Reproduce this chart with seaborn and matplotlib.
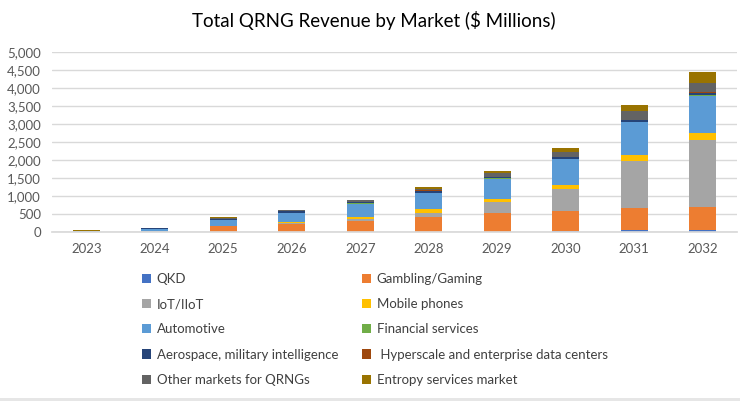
import matplotlib
matplotlib.use("Agg")
import matplotlib.pyplot as plt
from matplotlib.patches import Patch
from matplotlib.ticker import FuncFormatter, MultipleLocator
import seaborn as sns
import pandas as pd

years = [2023, 2024, 2025, 2026, 2027, 2028, 2029, 2030, 2031, 2032]

markets = ["QKD", "Gambling/Gaming", "IoT/IIoT", "Mobile phones", "Automotive",
           "Financial services", "Aerospace, military intelligence",
           " Hyperscale and enterprise data centers", "Other markets for QRNGs",
           "Entropy services market"]

qkd         = [1, 3, 3, 4, 5, 6, 10, 25, 55, 55]
gambling    = [5, 10, 150, 205, 300, 420, 520, 570, 600, 630]
iot         = [3, 5, 10, 35, 65, 110, 300, 590, 1330, 1860]
mobile      = [2, 3, 5, 20, 45, 90, 95, 130, 150, 204]
automotive  = [10, 70, 170, 260, 375, 450, 560, 700, 910, 1025]
financial   = [1, 2, 3, 5, 8, 10, 12, 15, 18, 20]
aerospace   = [5, 15, 25, 45, 25, 65, 40, 45, 56, 75]
hyperscale  = [1, 1, 2, 2, 3, 3, 4, 5, 6, 8]
other       = [5, 10, 25, 25, 55, 50, 95, 140, 230, 268]
entropy     = [12, 5, 15, 12, 17, 37, 55, 100, 168, 307]

series = [qkd, gambling, iot, mobile, automotive, financial, aerospace,
          hyperscale, other, entropy]

colors = ["#4472C4", "#ED7D31", "#A5A5A5", "#FFC000", "#5B9BD5",
          "#70AD47", "#264478", "#9E480E", "#636363", "#997300"]

rows = []
for m, vals in zip(markets, series):
    for y, v in zip(years, vals):
        rows.append({"Year": y, "Market": m, "Value": v})
df = pd.DataFrame(rows)

sns.set_theme(style="white")
plt.rcParams["font.family"] = ["Lato", "DejaVu Sans"]

fig = plt.figure(figsize=(7.4, 4.01), dpi=100)
fig.patch.set_facecolor("white")
ax = fig.add_axes([52 / 740, 1 - 232 / 401, (737 - 52) / 740, (232 - 52) / 401])

palette = dict(zip(markets, colors))
# seaborn stacks with the last hue level at the bottom
sns.histplot(data=df, x="Year", weights="Value", hue="Market",
             hue_order=markets[::-1], multiple="stack", discrete=True,
             shrink=0.4, palette=palette, alpha=1, linewidth=0,
             legend=False, ax=ax)

ax.set_xlim(2022.5, 2032.5)
ax.set_ylim(0, 5000)
ax.set_xticks(years)
ax.set_xticklabels([str(y) for y in years])
ax.yaxis.set_major_locator(MultipleLocator(500))
ax.yaxis.set_major_formatter(FuncFormatter(lambda v, p: f"{int(v):,}"))
ax.grid(axis="y", color="#D9D9D9", linewidth=1)
ax.set_axisbelow(True)
for s in ["top", "right", "left"]:
    ax.spines[s].set_visible(False)
ax.spines["bottom"].set_color("#D9D9D9")
ax.tick_params(axis="both", length=0, labelsize=9.5, colors="#595959")
ax.tick_params(axis="x", pad=8)
ax.tick_params(axis="y", pad=8)
ax.set_xlabel("")
ax.set_ylabel("")

fig.text(374 / 740, 1 - 20 / 401, "Total QRNG Revenue by Market ($ Millions)",
         ha="center", va="center", fontsize=13.5, color="#000000")

handles = [Patch(facecolor=c, edgecolor="none") for c in colors]
col1 = [0, 2, 4, 6, 8]
col2 = [1, 3, 5, 7, 9]
common = dict(frameon=False, handlelength=0.7, handleheight=0.7,
              handletextpad=0.4, labelspacing=1.0, fontsize=9.5,
              labelcolor="#404040", borderaxespad=0, borderpad=0)
fig.legend([handles[i] for i in col1], [markets[i] for i in col1],
           loc="upper left", bbox_to_anchor=(142 / 740, 1 - 273 / 401), **common)
fig.legend([handles[i] for i in col2], [markets[i] for i in col2],
           loc="upper left", bbox_to_anchor=(362 / 740, 1 - 273 / 401), **common)

# light bottom strip of the chart frame
fig.add_artist(plt.Rectangle((0, 0), 1, 3 / 401, transform=fig.transFigure,
                             facecolor="#E6E6E6", edgecolor="none"))

fig.savefig("out.png", dpi=100)
